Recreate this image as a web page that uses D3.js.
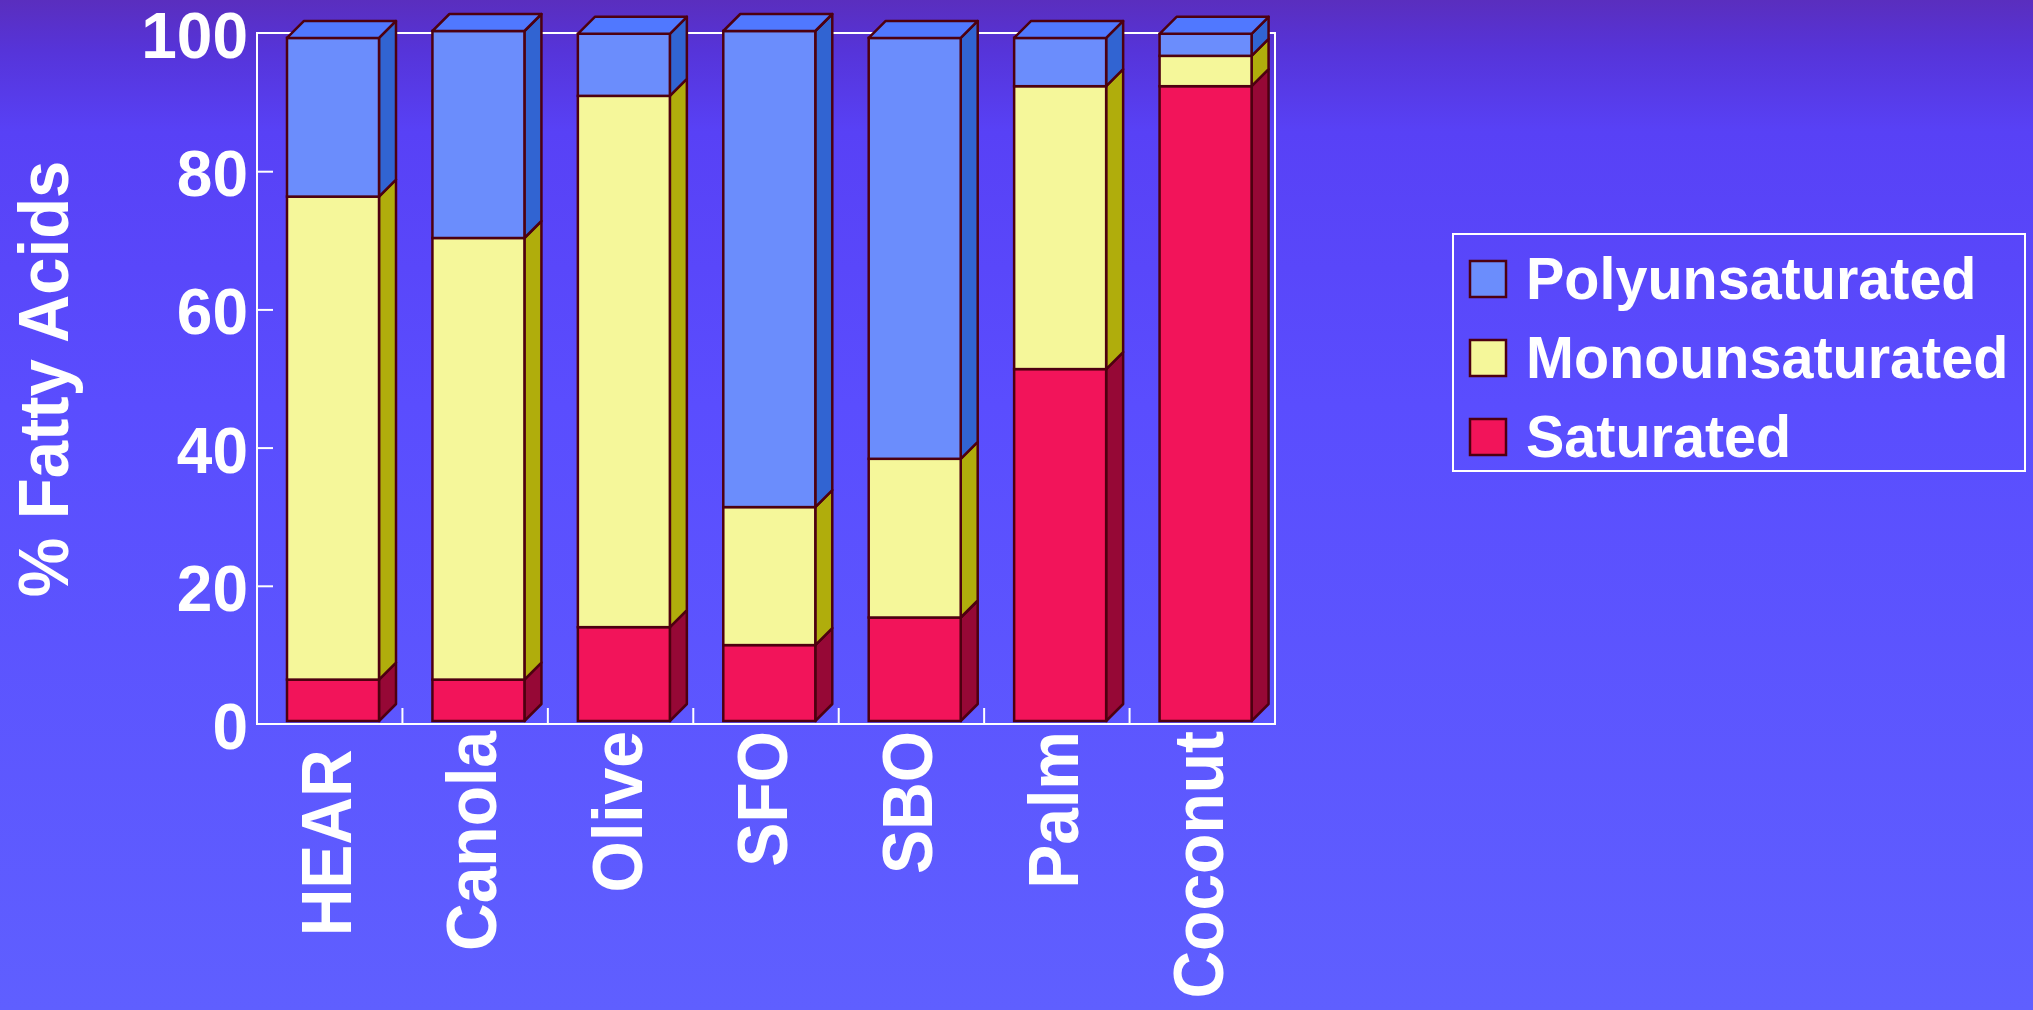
<!DOCTYPE html>
<html>
<head>
<meta charset="utf-8">
<script src="https://cdn.jsdelivr.net/npm/d3@7"></script>
<style>
  html, body { margin: 0; padding: 0; overflow: hidden; }
  svg { display: block; }
  text { font-family: "Liberation Sans", Arial, Helvetica, sans-serif; font-weight: bold; fill: #ffffff; }
</style>
</head>
<body>
<svg id="chart" width="2033" height="1010"></svg>
<script>
// ---- data ----
const categories = ["HEAR ", "Canola", "Olive", "SFO", "SBO", "Palm", "Coconut"];
const saturated       = [6, 6, 13.6, 11, 15, 51, 92];
const monounsaturated = [70, 64, 77, 20, 23, 41, 4.4];
const polyunsaturated = [23, 30, 9, 69, 61, 7, 3.2];
const seriesNames = ["Saturated", "Monounsaturated", "Polyunsaturated"];
const legendOrder = ["Polyunsaturated", "Monounsaturated", "Saturated"];
const yTicks = [0, 20, 40, 60, 80, 100];
const yTitle = "% Fatty Acids";

// ---- styles ----
const colors = {
  Saturated:       { front: "#F2145A", side: "#960836", top: "#FF4A80" },
  Monounsaturated: { front: "#F5F79A", side: "#B0AD0C", top: "#FBFBC4" },
  Polyunsaturated: { front: "#6B8DFC", side: "#3164D2", top: "#5078FF" }
};
const outline = "#4D0010";

const svg = d3.select("#chart");
const W = 2033, H = 1010;

// background gradient
const defs = svg.append("defs");
const grad = defs.append("linearGradient").attr("id", "bg").attr("x1", 0).attr("y1", 0).attr("x2", 0).attr("y2", 1);
[["0%", "#5A2EBE"], ["5%", "#5634D9"], ["13%", "#5841F6"], ["40%", "#5A4DFE"], ["100%", "#5F5FFF"]]
  .forEach(([o, c]) => grad.append("stop").attr("offset", o).attr("stop-color", c));
svg.append("rect").attr("width", W).attr("height", H).attr("fill", "url(#bg)");

// layout
const plot = { left: 257, right: 1275, top: 33, bottom: 724 };
const x = d3.scaleBand().domain(categories).range([plot.left, plot.right]).padding(0);
const y = d3.scaleLinear().domain([0, 100]).range([plot.bottom, plot.top]);
const yBar = d3.scaleLinear().domain([0, 100]).range([plot.bottom - 3, plot.top - 2]);
const barOffset = 30, barWidth = 92, depth = 17;

// stack
const table = categories.map((c, i) => ({
  cat: c,
  Saturated: saturated[i],
  Monounsaturated: monounsaturated[i],
  Polyunsaturated: polyunsaturated[i]
}));
const stacked = d3.stack().keys(seriesNames)(table);

// frame
svg.append("rect")
  .attr("x", plot.left).attr("y", plot.top)
  .attr("width", plot.right - plot.left).attr("height", plot.bottom - plot.top)
  .attr("fill", "none").attr("stroke", "#ffffff").attr("stroke-width", 2);

// y ticks (inward)
const yAxis = d3.axisRight(y).tickValues(yTicks.filter(v => v > 0 && v < 100)).tickSize(16).tickFormat("");
const gy = svg.append("g").attr("transform", `translate(${plot.left},0)`).call(yAxis);
gy.select(".domain").remove();
gy.selectAll("line").attr("stroke", "#ffffff").attr("stroke-width", 2);

// x ticks at band boundaries (inward)
const boundaries = categories.slice(1).map(c => x(c));
svg.append("g").selectAll("line").data(boundaries).join("line")
  .attr("x1", d => d).attr("x2", d => d)
  .attr("y1", plot.bottom).attr("y2", plot.bottom - 16)
  .attr("stroke", "#ffffff").attr("stroke-width", 2);

// bars
const barsG = svg.append("g");
stacked.forEach((layer, li) => {
  const key = layer.key;
  const isTop = li === stacked.length - 1;
  layer.forEach((seg, i) => {
    const cat = categories[i];
    const x0 = x(cat) + barOffset, x1 = x0 + barWidth;
    const yT = yBar(seg[1]), yB = yBar(seg[0]);
    const g = barsG.append("g");
    g.append("polygon")
      .attr("points", [[x1, yB], [x1 + depth, yB - depth], [x1 + depth, yT - depth], [x1, yT]].map(p => p.join(",")).join(" "))
      .attr("fill", colors[key].side).attr("stroke", outline).attr("stroke-width", 2.5).attr("stroke-linejoin", "round");
    g.append("rect")
      .attr("x", x0).attr("y", yT).attr("width", barWidth).attr("height", yB - yT)
      .attr("fill", colors[key].front).attr("stroke", outline).attr("stroke-width", 2.5);
    if (isTop) {
      g.append("polygon")
        .attr("points", [[x0, yT], [x0 + depth, yT - depth], [x1 + depth, yT - depth], [x1, yT]].map(p => p.join(",")).join(" "))
        .attr("fill", colors[key].top).attr("stroke", outline).attr("stroke-width", 2.5).attr("stroke-linejoin", "round");
    }
  });
});

// y tick labels
svg.append("g").selectAll("text").data(yTicks).join("text")
  .attr("transform", d => `translate(248,${y(d) + 25})`)
  .attr("text-anchor", "end")
  .attr("font-size", 64)
  .text(d => d);

// y title
svg.append("text")
  .attr("transform", `translate(68,379) rotate(-90) scale(1,1.06)`)
  .attr("text-anchor", "middle")
  .attr("font-size", 67)
  .text(yTitle);

// x labels
svg.append("g").selectAll("text").data(categories).join("text")
  .attr("transform", d => `translate(${x(d) + x.bandwidth() / 2 + 21},731) rotate(-90) scale(1,1.07)`)
  .attr("text-anchor", "end")
  .attr("font-size", 66)
  .style("white-space", "pre")
  .text(d => d);

// legend
const legend = svg.append("g");
legend.append("rect")
  .attr("x", 1453).attr("y", 234).attr("width", 572).attr("height", 237)
  .attr("fill", "none").attr("stroke", "#ffffff").attr("stroke-width", 2);
const ly = d3.scalePoint().domain(legendOrder).range([0, 158]);
const items = legend.selectAll("g.item").data(legendOrder).join("g")
  .attr("class", "item")
  .attr("transform", d => `translate(1470,${261 + ly(d)})`);
items.append("rect")
  .attr("width", 36).attr("height", 36)
  .attr("fill", d => colors[d].front).attr("stroke", outline).attr("stroke-width", 2.5);
items.append("text")
  .attr("transform", "translate(56,38) scale(1,1.04)")
  .attr("font-size", 57.5)
  .text(d => d);
</script>
</body>
</html>
